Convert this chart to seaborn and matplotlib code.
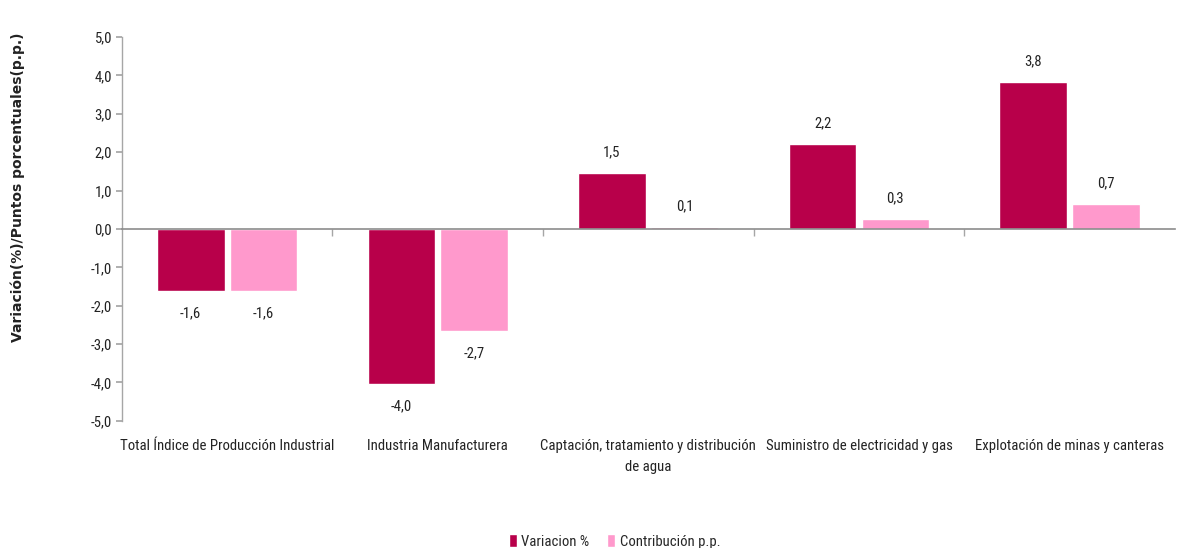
import matplotlib
matplotlib.use("Agg")
import matplotlib.pyplot as plt
import matplotlib.transforms as mtransforms
from matplotlib import font_manager as fm
import seaborn as sns
import pandas as pd
import numpy as np

categories = [
    "Total Índice de Producción Industrial",
    "Industria Manufacturera",
    "Captación, tratamiento y distribución\nde agua",
    "Suministro de electricidad y gas",
    "Explotación de minas y canteras",
]
series_names = ["Variacion %", "Contribución p.p."]
variacion = [-1.62, -4.04, 1.46, 2.22, 3.82]
contribucion = [-1.62, -2.66, 0.06, 0.26, 0.66]
yticks = [-5, -4, -3, -2, -1, 0, 1, 2, 3, 4, 5]

colors = ["#B8004A", "#FF99CC"]

sns.set_theme(style="white")
plt.rcParams["font.family"] = ["DejaVu Sans"]

# pick a narrow regular font if one is installed (Calibri-like look)
def pick_narrow():
    prefs = ["liberationsansnarrow-regular", "notosans-condensed.", "notosans-semicondensed.",
             "opensans-condensed", "opensans_condensed", "robotocondensed-regular",
             "dejavusanscondensed."]
    files = [f.fname for f in fm.fontManager.ttflist]
    low = {f.lower().split("/")[-1]: f for f in files}
    for p in prefs:
        for k, v in low.items():
            if k.startswith(p):
                return v
    for k, v in low.items():
        if ("narrow" in k or "condensed" in k) and "bold" not in k and "italic" not in k \
                and "light" not in k and "medium" not in k and "black" not in k and "thin" not in k \
                and "mono" not in k and "serif" not in k and "cjk" not in k:
            return v
    return None

narrow = pick_narrow()
if narrow:
    base_fp = fm.FontProperties(fname=narrow)
else:
    base_fp = fm.FontProperties(family="Liberation Sans")

df = pd.DataFrame({
    "cat": categories * 2,
    "serie": [series_names[0]] * len(categories) + [series_names[1]] * len(categories),
    "valor": variacion + contribucion,
})

fig = plt.figure(figsize=(11.82, 5.48), dpi=100)
ax = fig.add_axes([0.103, 0.232, 0.891, 0.7005])

# size the font so that the first category label is about as wide as in the reference
renderer = fig.canvas.get_renderer()
probe_fp = base_fp.copy()
probe_fp.set_size(10)
tt = fig.text(0, 0, categories[0], fontproperties=probe_fp)
w = tt.get_window_extent(renderer).width
tt.remove()
fs = max(8.0, min(12.5, 10 * 212.0 / w))
fp = base_fp.copy()
fp.set_size(fs)

sns.barplot(data=df, x="cat", y="valor", hue="serie", order=categories,
            hue_order=series_names, palette=colors, width=0.69, gap=0.07,
            saturation=1, ax=ax, legend=True, errorbar=None)

ax.set_ylim(-5, 5)
ax.set_xlim(-0.5, len(categories) - 0.5)
ax.set_yticks(yticks)
ax.set_yticklabels([f"{v:.1f}".replace(".", ",") for v in yticks], color="#222222")
for lab in ax.get_yticklabels():
    lab.set_fontproperties(fp)
ax.set_xlabel("")
ax.set_ylabel("")

for s in ["top", "right"]:
    ax.spines[s].set_visible(False)
ax.spines["left"].set_color("#A6A6A6")
ax.spines["bottom"].set_color("#8C8C8C")
ax.spines["bottom"].set_position(("data", 0))
ax.spines["left"].set_linewidth(1.0)
ax.spines["bottom"].set_linewidth(1.2)

ax.tick_params(axis="y", which="major", direction="out", length=4, color="#A6A6A6", left=True, pad=3)
ax.set_xticks([])
ax.set_xticks(np.arange(0.5, len(categories) - 0.5, 1.0), minor=True)
ax.tick_params(axis="x", which="minor", direction="out", length=5, color="#A6A6A6", bottom=True)

# category labels at the bottom
trans = mtransforms.blended_transform_factory(ax.transData, ax.transAxes)
for i, c in enumerate(categories):
    ax.text(i, -0.047, c, transform=trans, ha="center", va="top", fontproperties=fp,
            color="#222222", linespacing=1.65)

# value labels
for container in ax.containers:
    for bar in container:
        h = bar.get_height()
        x = bar.get_x() + bar.get_width() / 2
        off = 14.8 if h >= 0 else -16.3
        ax.annotate(f"{h:.1f}".replace(".", ","), (x, h), xytext=(0, off),
                    textcoords="offset points", ha="center", va="center",
                    fontproperties=fp, color="#222222")

fig.text(0.015, 0.659, "Variación(%)/Puntos porcentuales(p.p.)", rotation=90,
         ha="center", va="center", fontsize=10, fontweight="bold",
         family=["DejaVu Sans"], color="#222222")

leg = ax.get_legend()
handles = leg.legend_handles
leg.remove()
lfp = fp.copy()
fig.legend(handles, series_names, loc="center", bbox_to_anchor=(0.52, 0.012),
           ncol=2, frameon=False, prop=lfp, handlelength=0.55, handleheight=0.9,
           handletextpad=0.3, columnspacing=1.2)

fig.savefig("out.png", dpi=100)
